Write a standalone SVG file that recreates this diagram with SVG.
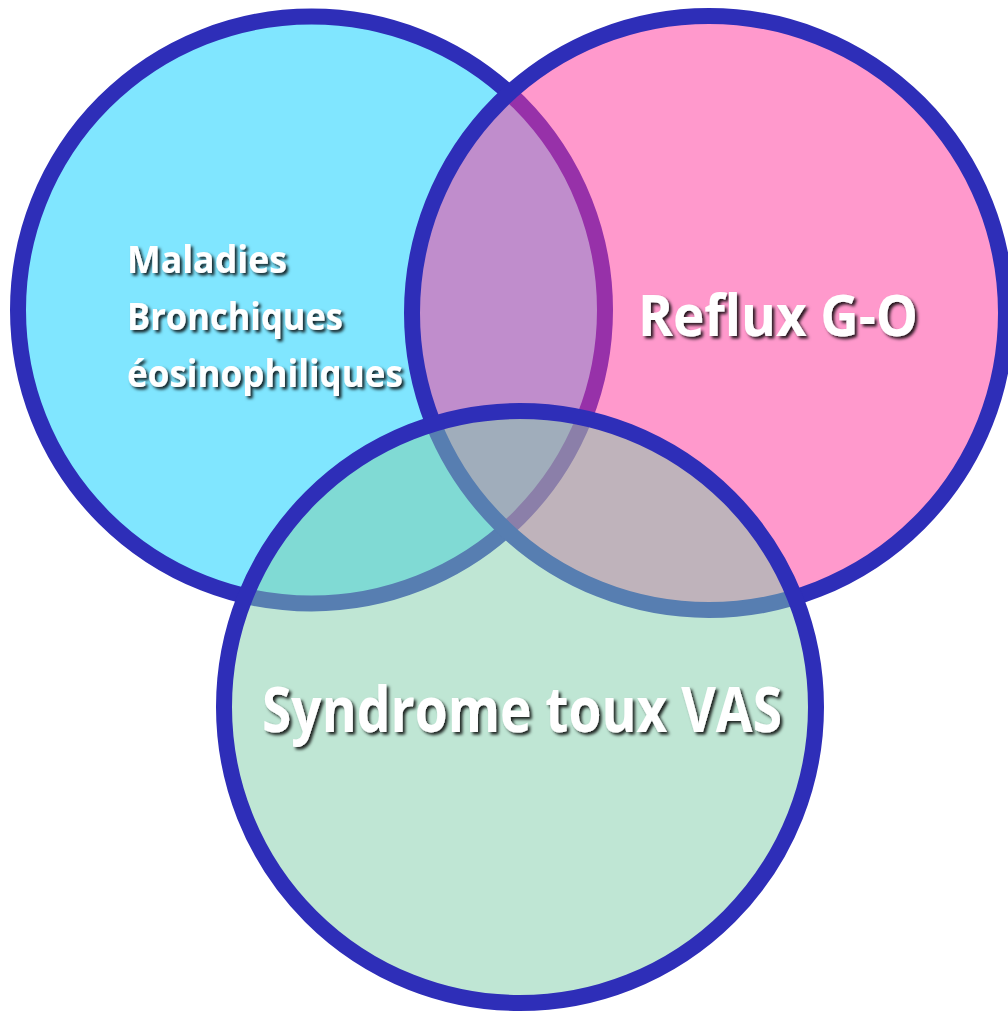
<svg xmlns="http://www.w3.org/2000/svg" width="1008" height="1011" viewBox="0 0 1008 1011">
<defs>
<filter id="sh" x="-10%" y="-30%" width="120%" height="160%">
<feDropShadow dx="2.5" dy="2.5" stdDeviation="1.4" flood-color="#000" flood-opacity="0.85"/>
</filter>
<style>
.ring{stroke:#2e2eb8;stroke-width:16}
.lbl{font-family:"Open Sans","Noto Sans","Liberation Sans",sans-serif;font-weight:bold;fill:#fff;filter:url(#sh)}
</style>
</defs>
<rect width="1008" height="1011" fill="#fff"/>
<g id="node-bronchiques">
<circle class="ring" cx="311.5" cy="310" r="293.5" fill="#80e6ff"/>
</g>
<g id="node-reflux">
<circle cx="709" cy="313" r="297" fill="#ff3399" fill-opacity="0.5"/>
<circle class="ring" cx="709" cy="313" r="297" fill="none"/>
</g>
<g id="node-vas">
<circle cx="520" cy="707" r="296" fill="#7fcda9" fill-opacity="0.5"/>
<circle class="ring" cx="520" cy="707" r="296" fill="none"/>
</g>
<g id="labels">
<text class="lbl" font-size="37" x="127" y="273" textLength="160" lengthAdjust="spacingAndGlyphs">Maladies</text>
<text class="lbl" font-size="37" x="127" y="330" textLength="216" lengthAdjust="spacingAndGlyphs">Bronchiques</text>
<text class="lbl" font-size="37" x="127" y="387" textLength="276" lengthAdjust="spacingAndGlyphs">éosinophiliques</text>
<text class="lbl" font-size="57" x="638" y="336" textLength="280" lengthAdjust="spacingAndGlyphs">Reflux G-O</text>
<text class="lbl" font-size="63" x="262" y="732" textLength="520" lengthAdjust="spacingAndGlyphs">Syndrome toux VAS</text>
</g>
</svg>
